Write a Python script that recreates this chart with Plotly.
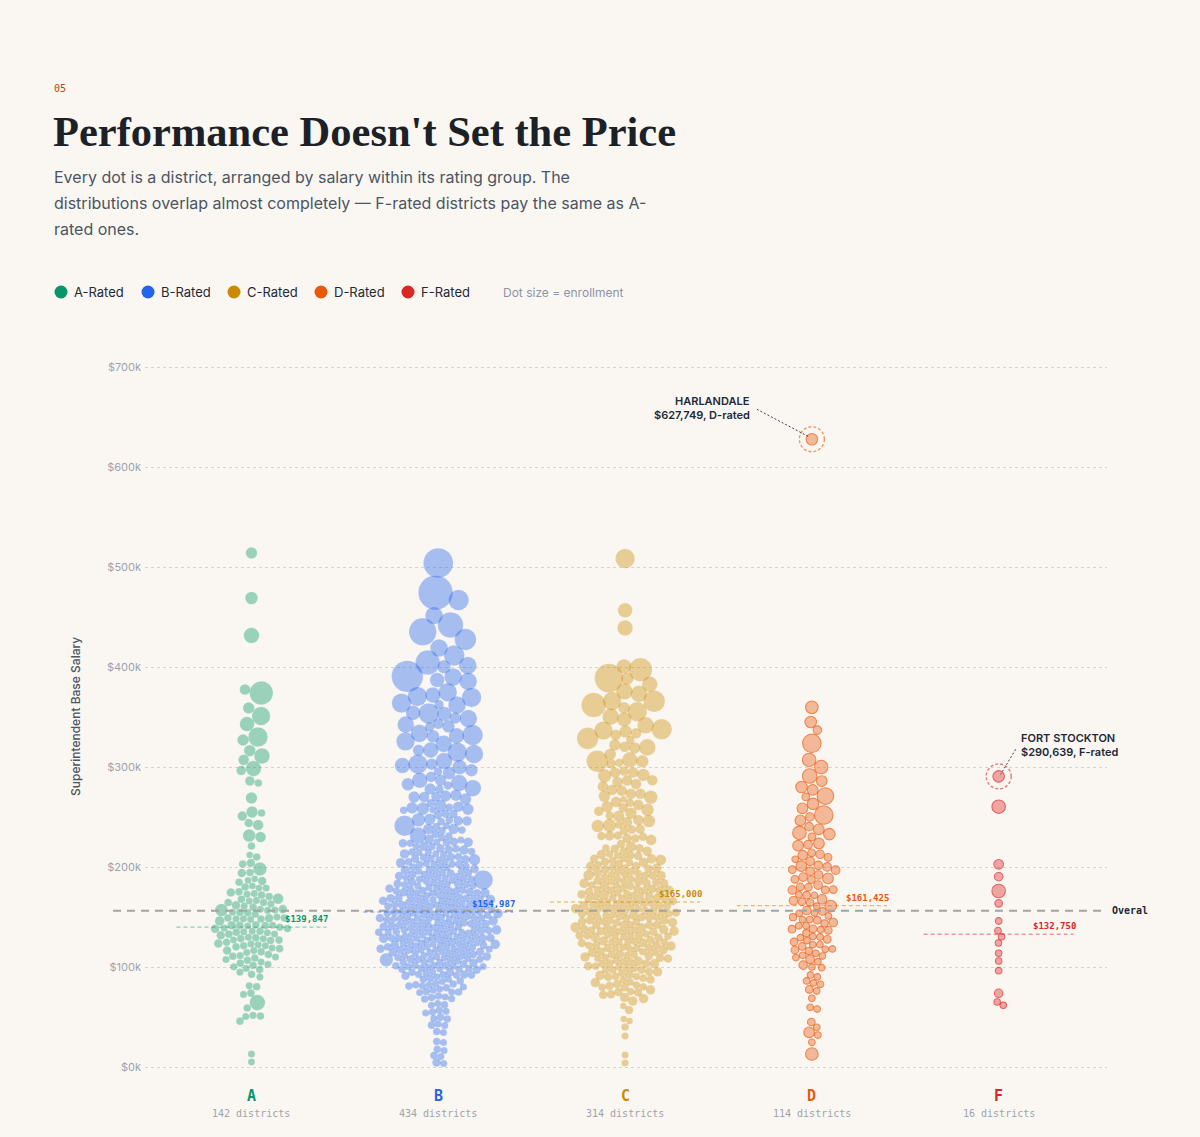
import numpy as np
import plotly.graph_objects as go

# ---------------- data (salary in $k, enrollment in thousands of students) ----------------
ratings = ["A", "B", "C", "D", "F"]
district_counts = [142, 434, 314, 114, 16]
group_means = [139847, 154987, 165000, 161425, 132750]
rating_colors = ["#059669", "#2563eb", "#ca8a04", "#ea580c", "#dc2626"]
salary_ticks = [0, 100, 200, 300, 400, 500, 600, 700]

a_districts = [
    (514.0, 7), (469.0, 10), (431.5, 21), (374.0, 70), (377.5, 5), (351.0, 36), (359.0, 7),
    (343.0, 17), (330.0, 42), (327.0, 7), (311.0, 21), (316.0, 7), (307.5, 5), (298.5, 21),
    (296.5, 3), (286.0, 3), (284.0, 0.6), (269.0, 7), (255.0, 7), (251.0, 3), (254.0, 0.6),
    (242.0, 5), (244.0, 1.5), (230.0, 5), (231.5, 10), (221.0, 0.6), (210.0, 0.6), (212.0, 0.1),
    (198.0, 13), (203.0, 0.6), (204.0, 1.5), (194.0, 1.5), (194.5, 0.6), (185.0, 1.5),
    (188.0, 0.1), (186.0, 0.1), (184.5, 0.6), (181.0, 0.1),
    (179.2, 0.3), (177.8, 0.6), (176.9, 0.2), (175.3, 0.6), (174.6, 1.5), (172.8, 0.3),
    (171.7, 0.6), (170.4, 0.3),
    (169.5, 0.6), (168.3, 5), (167.6, 0.3), (166.2, 0.6), (165.4, 0.2), (164.1, 0.6),
    (163.3, 1.5), (162.0, 0.3), (161.4, 0.6), (160.6, 0.3),
    (159.6, 0.6), (158.9, 0.3), (157.8, 1.5), (157.1, 0.3), (156.0, 10), (155.4, 0.6),
    (154.7, 0.3), (153.5, 0.6), (152.9, 0.2), (152.1, 0.6), (151.2, 0.3), (150.4, 1.5),
    (149.7, 0.3), (149.0, 0.6), (148.2, 0.3), (147.4, 3), (146.8, 0.6), (145.9, 0.2),
    (145.1, 0.6), (144.3, 0.3), (143.6, 0.6), (142.8, 1.5), (142.1, 0.3), (141.3, 0.6),
    (140.7, 0.2), (140.1, 0.6),
    (139.4, 0.3), (138.6, 0.6), (137.9, 1.5), (137.0, 0.3), (136.3, 0.6), (135.5, 0.2),
    (134.8, 0.6), (133.9, 0.3), (133.1, 0.6), (132.2, 0.3), (131.6, 1.5), (130.9, 0.6), (130.2, 0.3),
    (129.5, 0.6), (128.6, 0.3), (127.8, 0.6), (127.0, 0.2), (126.1, 0.6), (125.3, 1.5),
    (124.6, 0.3), (123.7, 0.6), (122.9, 0.3), (122.0, 0.6), (121.2, 0.2), (120.4, 0.6),
    (119.3, 0.3), (118.4, 0.6), (117.2, 1.5), (116.3, 0.3), (115.1, 0.6), (114.2, 0.3),
    (113.0, 0.6), (111.9, 0.3), (111.0, 0.6), (110.2, 0.3),
    (109.1, 0.6), (107.8, 0.3), (106.6, 0.6), (105.2, 0.3), (104.1, 0.6), (102.7, 0.3),
    (101.5, 0.6), (100.3, 0.3),
    (98.6, 0.3), (96.8, 0.6), (94.9, 0.3), (92.7, 0.6), (90.8, 0.3),
    (81.0, 0.3), (80.2, 0.6), (73.5, 0.6), (72.6, 0.3), (64.5, 21), (59.0, 0.6), (51.6, 0.3),
    (51.0, 0.6), (50.4, 0.3), (46.0, 0.6), (13.0, 0.3), (5.0, 0.2),
]

b_districts = [
    (504, 130), (474, 188), (467, 49), (450, 31), (442, 88), (436, 107), (428, 56), (418, 31),
    (411, 49), (404, 79), (400, 13), (402, 31), (391, 150), (390, 31), (385, 31), (387, 17),
    (370, 42), (364, 42), (370.5, 42), (374, 36), (363.5, 31), (372, 21), (360, 3),
    (344, 26), (343, 5), (352, 17), (350, 7), (353, 17), (347, 31), (352.5, 49), (339, 3), (339.5, 10),
    (326, 36), (333, 49), (332, 10), (332.5, 21), (334, 31),
    (316, 7), (313, 36), (323, 26), (314, 42), (317, 21),
    (303, 42), (301, 17), (297, 10), (304, 26), (297.5, 10), (301.5, 21), (303.5, 7),
    (291, 1.5), (286, 7), (285, 1.5), (289, 5), (283, 10), (283.5, 26), (287, 21),
    (279, 26), (272, 7), (278, 1.5), (268, 7), (277, 7), (271, 5), (270, 7), (268.5, 3), (271.5, 7),
    (261, 10), (258, 7), (257, 0.6), (264, 1.5), (259, 7), (259.5, 0.6), (258.5, 0.1), (258.2, 5), (259.2, 10),
    (247, 13), (250, 1.5), (246, 3), (250.5, 1.5), (252, 1.5), (247.5, 3), (250.8, 0.6), (248, 7), (241, 49),
    (242, 0.1), (236, 0.6), (239, 5), (243, 0.6), (237, 0.6), (240, 0.6), (237.5, 5), (232, 26),
    (229.6, 1.5), (228.9, 0.6), (228.0, 3), (227.5, 0.6), (226.4, 1.5), (225.9, 0.3), (225.0, 3),
    (224.2, 0.6), (223.8, 1.5), (222.5, 0.3), (221.9, 0.6), (221.0, 3), (220.3, 0.6),
    (219.5, 1.5), (218.7, 0.6), (218.2, 0.3), (217.0, 3), (216.6, 0.6), (215.5, 1.5), (215.0, 0.3),
    (214.1, 0.6), (213.3, 3), (212.9, 0.6), (211.8, 0.3), (211.2, 1.5), (210.6, 0.6), (210.0, 0.3),
    (209.4, 0.6), (208.8, 1.5), (208.0, 0.3), (207.3, 7), (206.9, 0.6), (205.8, 0.3), (205.2, 1.5),
    (205.0, 0.6), (204.1, 0.3), (203.3, 3), (202.7, 0.6), (202.0, 0.3), (201.4, 1.5), (200.5, 0.6), (200.0, 0.3),
    (199.7, 0.6), (199.0, 0.3), (198.5, 1.5), (197.6, 0.6), (197.0, 0.3), (196.3, 3), (195.9, 0.6),
    (195.0, 0.3), (194.4, 0.6), (193.8, 1.5), (193.0, 0.3), (192.5, 0.6), (191.7, 0.3), (191.0, 1.5),
    (190.6, 0.6), (190.2, 0.3), (190.0, 0.6),
    (189.6, 0.3), (189.0, 0.6), (188.5, 1.5), (188.0, 0.3), (187.2, 0.6), (186.6, 0.3), (186.0, 42),
    (185.5, 0.6), (185.0, 0.3), (184.3, 1.5), (183.8, 0.6), (183.0, 0.3), (182.6, 0.6), (182.0, 3),
    (181.5, 0.3), (181.0, 0.6), (180.7, 0.3), (180.3, 1.5), (180.0, 0.6),
    (179.8, 0.3), (179.2, 0.6), (178.7, 0.3), (178.0, 1.5), (177.6, 0.6), (177.0, 0.3), (176.5, 0.6),
    (176.0, 3), (175.4, 0.3), (175.0, 0.6), (174.6, 0.3), (174.0, 1.5), (173.5, 0.6), (173.0, 0.3),
    (172.4, 0.6), (172.0, 0.3), (171.5, 1.5), (171.0, 0.6), (170.8, 0.3), (170.4, 0.6), (170.0, 0.3), (170.0, 1.5),
    (169.7, 0.6), (169.2, 0.3), (168.8, 0.6), (168.3, 1.5), (168.0, 0.3), (167.5, 0.6), (167.0, 0.3),
    (166.6, 0.6), (166.1, 3), (165.8, 0.3), (165.2, 0.6), (165.0, 0.3), (164.6, 1.5), (164.0, 0.6),
    (163.7, 0.3), (163.2, 0.6), (162.8, 0.3), (162.3, 0.6), (162.0, 1.5), (161.6, 0.3), (161.0, 0.6),
    (160.7, 0.3), (160.4, 0.6), (160.0, 3), (160.0, 0.3),
    (159.8, 0.6), (159.3, 0.3), (159.0, 0.6), (158.5, 1.5), (158.0, 0.3), (157.6, 0.6), (157.2, 0.3),
    (156.8, 0.6), (156.3, 1.5), (156.0, 0.3), (155.6, 0.6), (155.0, 0.3), (155.0, 0.6), (154.5, 3),
    (154.0, 0.3), (153.7, 0.6), (153.2, 0.3), (152.8, 0.6), (152.4, 1.5), (152.0, 0.3), (151.5, 0.6),
    (151.0, 0.3), (150.8, 0.6), (150.4, 1.5), (150.0, 0.3), (150.0, 0.6), (150.0, 0.3),
    (149.7, 0.6), (149.3, 0.3), (149.0, 0.6), (148.5, 1.5), (148.0, 0.3), (147.8, 0.6), (147.2, 0.3),
    (147.0, 0.6), (146.5, 3), (146.0, 0.3), (145.7, 0.6), (145.3, 0.3), (145.0, 0.6), (145.0, 1.5),
    (144.5, 0.3), (144.0, 0.6), (143.6, 0.3), (143.2, 0.6), (142.8, 1.5), (142.4, 0.3), (142.0, 0.6),
    (141.6, 0.3), (141.2, 0.6), (140.8, 1.5), (140.5, 0.3), (140.2, 0.6), (140.0, 0.3), (140.0, 0.6),
    (139.6, 0.3), (139.2, 0.6), (138.9, 1.5), (138.4, 0.3), (138.0, 0.6), (137.7, 0.3), (137.3, 0.6),
    (137.0, 3), (136.5, 0.3), (136.0, 0.6), (135.8, 0.3), (135.4, 0.6), (135.0, 1.5), (135.0, 0.3),
    (134.6, 0.6), (134.1, 0.3), (133.7, 0.6), (133.3, 1.5), (133.0, 0.3), (132.5, 0.6), (132.0, 0.3),
    (131.7, 0.6), (131.3, 1.5), (131.0, 0.3), (130.6, 0.6), (130.3, 0.3), (130.0, 0.6), (130.0, 3),
    (129.6, 0.3), (129.1, 0.6), (128.7, 0.3), (128.3, 1.5), (128.0, 0.6), (127.5, 0.3), (127.0, 0.6),
    (126.7, 0.3), (126.2, 1.5), (125.8, 0.6), (125.4, 0.3), (125.0, 0.6), (125.0, 0.3), (124.5, 3),
    (124.0, 0.6), (123.6, 0.3), (123.1, 0.6), (122.7, 1.5), (122.3, 0.3), (122.0, 0.6), (121.5, 0.3),
    (121.2, 0.6), (120.8, 1.5), (120.5, 0.3), (120.0, 0.6), (120.0, 0.3), (120.3, 0.6),
    (119.6, 0.3), (119.0, 0.6), (118.6, 1.5), (118.0, 0.3), (117.5, 0.6), (117.0, 0.3), (116.6, 0.6),
    (116.0, 3), (115.5, 0.3), (115.0, 0.6), (115.2, 0.3), (114.4, 0.6), (114.0, 1.5), (113.5, 0.3),
    (113.0, 0.6), (112.6, 0.3), (112.0, 0.6), (111.7, 1.5), (111.2, 0.3), (110.9, 0.6), (110.5, 0.3),
    (110.0, 0.6), (110.1, 1.5), (110.7, 0.3), (111.4, 0.6),
    (109.7, 0.3), (109.1, 13), (108.6, 0.6), (108.0, 0.3), (107.5, 1.5), (107.0, 0.6), (106.4, 0.3),
    (106.0, 0.6), (105.5, 1.5), (105.0, 0.3), (104.6, 0.6), (104.0, 0.3), (103.4, 1.5), (103.0, 0.6),
    (102.5, 0.3), (102.0, 0.6), (101.5, 0.3), (101.0, 1.5), (100.6, 0.6), (100.2, 0.3), (100.0, 0.6), (100.0, 0.3),
    (99.5, 0.6), (98.8, 0.3), (98.0, 1.5), (97.4, 0.6), (96.7, 0.3), (96.0, 0.6), (95.5, 0.3),
    (95.0, 1.5), (94.2, 0.6), (93.6, 0.3), (93.0, 0.6), (92.3, 0.3), (91.7, 1.5), (91.0, 0.6),
    (90.6, 0.3), (90.2, 0.6), (90.0, 0.3),
    (87.0, 0.6), (86.0, 0.3), (85.0, 0.6), (84.5, 0.3), (83.5, 0.6), (83.0, 0.3), (82.0, 0.6),
    (81.5, 0.3), (81.0, 0.6), (78.5, 0.3), (78.0, 0.6), (77.0, 0.3), (76.5, 0.6), (76.0, 0.3),
    (75.0, 0.6), (74.5, 0.3), (71.0, 0.6), (70.0, 0.3), (69.5, 0.6), (68.5, 0.3), (68.0, 0.6),
    (63.5, 0.3), (62.0, 0.6), (61.0, 0.3), (56.5, 0.6), (56.0, 0.3), (55.0, 0.6), (54.0, 0.3),
    (50.0, 0.6), (49.0, 0.3), (48.0, 0.6), (43.0, 0.3), (42.0, 0.6), (41.5, 0.3), (35.5, 0.6),
    (34.5, 0.3), (25.5, 0.6), (24.5, 0.3), (17.5, 0.6), (16.5, 0.3), (11.5, 0.6), (10.5, 0.3),
    (4.5, 1.5), (3.5, 0.3),
]

c_districts = [
    (508.4, 42), (456.7, 17), (439, 21),
    (389, 118), (397, 70), (400, 17), (388, 10), (383.4, 21),
    (366, 56), (366.5, 36), (375, 26), (362, 79), (373, 26), (359, 7),
    (349.6, 17), (347, 26), (344.6, 26), (352, 42),
    (338, 49), (329, 56), (334, 5), (331, 5), (338.5, 36), (334.5, 10),
    (320, 7), (326, 1.5), (321, 5), (320.5, 7), (319.6, 26), (315, 7),
    (306, 56), (304, 3), (307, 21), (305.7, 10), (304.5, 1.5),
    (290.5, 13), (287, 5), (294, 5), (294.6, 5), (295.6, 3), (292, 10),
    (282, 5), (283, 5), (286.5, 5), (283.8, 5),
    (277, 5), (271, 7), (273, 5), (273.5, 5), (270, 13), (277.5, 5),
    (266, 0.1), (264.5, 1.5), (264, 5), (262, 5),
    (258, 3), (257, 10), (253, 7), (251.7, 7), (256, 3), (260, 7),
    (246.6, 10), (243, 13), (241, 10), (241.5, 0.6), (245, 5), (247.6, 5), (248, 1.5),
    (234.8, 1.5), (231.4, 1.5), (232, 3), (228.7, 1.5), (232.4, 1.5), (231, 1.5), (237.5, 1.5), (237, 3),
    (229, 3), (227.3, 5), (220, 5), (222.6, 1.5), (218, 1.5),
    (217.5, 1.5), (216.2, 0.6), (215.0, 3), (214.3, 1.5), (213.0, 0.6), (212.1, 3), (211.0, 1.5), (210.4, 0.6),
    (209.6, 1.5), (208.7, 3), (208.0, 0.6), (207.1, 1.5), (206.3, 5), (205.5, 0.6), (205.0, 1.5),
    (204.0, 3), (203.2, 0.6), (202.5, 1.5), (201.6, 0.6), (200.8, 3), (200.0, 1.5),
    (199.5, 0.6), (198.8, 1.5), (198.0, 3), (197.2, 0.6), (196.5, 1.5), (195.7, 0.6), (195.0, 3),
    (194.3, 1.5), (193.5, 0.6), (192.8, 1.5), (192.0, 5), (191.2, 0.6), (190.5, 1.5), (190.0, 0.6),
    (189.6, 1.5), (189.0, 3), (188.2, 0.6), (187.5, 1.5), (186.8, 0.6), (186.0, 3), (185.3, 1.5),
    (185.0, 0.6), (184.2, 1.5), (183.5, 3), (182.8, 0.6), (182.0, 1.5), (181.3, 0.6), (180.6, 1.5), (180.0, 3),
    (179.6, 0.6), (179.0, 1.5), (178.4, 0.6), (177.7, 3), (177.0, 1.5), (176.5, 0.6), (175.9, 1.5),
    (175.3, 0.6), (175.0, 3), (174.3, 1.5), (173.6, 0.6), (173.0, 1.5), (172.4, 0.6), (171.8, 5),
    (171.2, 0.6), (170.5, 1.5), (170.0, 0.6),
    (169.6, 1.5), (169.0, 0.6), (168.5, 3), (168.0, 0.6), (167.4, 1.5), (166.8, 0.6), (166.2, 1.5),
    (165.7, 0.6), (165.0, 3), (165.0, 0.6), (164.4, 1.5), (163.8, 0.6), (163.2, 1.5), (162.7, 0.6),
    (162.1, 3), (161.6, 0.6), (161.0, 1.5), (160.5, 0.6), (160.0, 1.5),
    (159.6, 0.6), (159.1, 1.5), (158.5, 0.6), (158.0, 3), (157.5, 0.6), (157.0, 1.5), (156.4, 0.6),
    (155.9, 1.5), (155.3, 0.6), (155.0, 3), (155.0, 0.6), (154.4, 1.5), (153.9, 0.6), (153.3, 1.5),
    (152.8, 0.6), (152.2, 3), (151.7, 0.6), (151.1, 1.5), (150.5, 0.6), (150.0, 1.5),
    (149.6, 0.6), (149.0, 1.5), (148.5, 0.6), (148.0, 3), (147.4, 0.6), (146.9, 1.5), (146.3, 0.6),
    (145.8, 1.5), (145.2, 0.6), (145.0, 3), (144.6, 0.6), (144.0, 1.5), (143.5, 0.6), (142.9, 1.5),
    (142.4, 0.6), (141.8, 3), (141.3, 0.6), (140.8, 1.5), (140.3, 0.6), (140.0, 5),
    (139.5, 0.6), (139.0, 1.5), (138.4, 0.6), (137.9, 3), (137.3, 0.6), (136.7, 1.5), (136.2, 0.6),
    (135.6, 1.5), (135.0, 0.6), (135.0, 3), (134.4, 0.6), (133.8, 1.5), (133.2, 0.6), (132.7, 1.5),
    (132.1, 0.6), (131.6, 3), (131.0, 0.6), (130.5, 1.5), (130.0, 0.6),
    (129.5, 1.5), (128.9, 0.6), (128.3, 3), (127.7, 0.6), (127.1, 1.5), (126.5, 0.6), (125.9, 1.5),
    (125.3, 0.6), (125.0, 3), (124.4, 0.6), (123.8, 1.5), (123.2, 0.6), (122.6, 1.5), (122.0, 0.6),
    (121.4, 3), (120.8, 0.6), (120.3, 1.5), (120.0, 0.6),
    (119.4, 1.5), (118.8, 0.6), (118.1, 3), (117.4, 0.6), (116.7, 1.5), (116.0, 0.6), (115.3, 1.5),
    (115.0, 3), (114.3, 0.6), (113.6, 1.5), (112.9, 0.6), (112.2, 1.5), (111.5, 0.6), (110.8, 3),
    (110.2, 0.6), (110.0, 1.5),
    (109.3, 0.6), (108.6, 1.5), (107.8, 0.6), (107.0, 3), (106.3, 0.6), (105.5, 1.5), (105.0, 0.6),
    (104.1, 1.5), (103.4, 0.6), (102.6, 3), (101.8, 0.6), (101.0, 1.5), (100.4, 0.6), (100.0, 1.5),
    (99.2, 0.6), (98.3, 1.5), (97.5, 0.6), (96.6, 3), (95.8, 0.6), (95.0, 1.5), (94.1, 0.6),
    (93.2, 1.5), (92.4, 0.6), (91.5, 3), (90.7, 0.6), (90.0, 1.5),
    (89.0, 0.6), (87.9, 1.5), (86.8, 0.6), (85.6, 3), (84.5, 0.6), (83.4, 1.5), (82.3, 0.6),
    (81.2, 1.5), (80.1, 0.6),
    (79.2, 1.5), (78.3, 0.6), (77.4, 3), (76.5, 0.6), (75.6, 1.5),
    (74, 1.5), (73.5, 1.5), (73, 1.5), (69.5, 3), (69, 3), (66, 3), (61, 0.1), (57, 1.5),
    (48, 0.1), (46, 0.1), (40, 0.6), (31, 0.3), (12, 0.3), (4, 0.3),
]

d_districts = [
    (627.749, 7),
    (359.7, 10), (345, 7), (337, 1.5), (323.7, 36), (307, 13), (300, 13), (291, 17), (286, 5), (280, 7), (277, 5),
    (271, 26), (270, 0.6), (258.7, 5), (263, 7), (252, 36), (250, 1.5), (246, 5), (239.7, 1.5), (237.7, 5), (233, 7),
    (234.7, 13), (229, 0.6), (221, 5), (223, 1.5), (223.7, 5), (212.7, 1.5), (209.7, 0.6), (214, 0.6), (212.2, 3), (207.7, 0.1),
    (201, 5), (200, 1.5), (205, 1.5), (202, 1.5), (197, 1.5), (188.7, 5), (190, 1.5), (195, 1.5), (192, 1.5), (187.7, 0.6),
    (177, 1.5), (180, 0.6), (180.4, 0.6), (177.4, 0.6), (182, 1.5), (177.7, 0.6), (166.3, 1.5), (172, 0.6), (171, 0.1), (167, 0.6),
    (171.3, 0.1), (167.7, 3), (161, 7), (156, 0.6), (160, 0.1), (163.7, 0.6), (157, 1.5), (151, 0.1), (153, 0.1), (154, 0.1),
    (147, 0.6), (146, 0.1), (147.3, 0.1), (145, 1.5), (138, 0.6), (141.7, 0.1), (137.7, 0.1), (142, 0.1), (138.3, 0.6), (137, 0.6),
    (129, 0.1), (126, 0.1), (130, 0.1), (127.7, 0.6), (130.3, 0.1), (125, 0.6), (121, 0.6), (118, 0.1), (121.3, 0.1), (118.7, 0.1),
    (122, 0.1), (117, 0.6), (112, 0.1), (110, 0.1), (113.7, 0.1), (111, 0.1), (107.7, 1.5), (102, 1.5), (105, 0.1), (100, 0.05),
    (99.7, 0.1), (90, 0.1), (92, 0.1), (82.7, 0.1), (84, 0.1), (86, 0.1), (76, 0.1), (77.7, 0.6), (68.7, 0.1), (59.7, 0.1),
    (58, 0.1), (45, 0.6), (39.7, 0.1), (34.7, 5), (32, 0.1), (24.7, 0.1), (13, 10),
    (185.2, 0.6), (197.5, 0.6), (150.0, 0.3), (143.0, 0.3), (133.5, 0.3), (116.0, 0.3),
]

f_districts = [
    (290.639, 7), (260.3, 13), (202.7, 3), (190.3, 1.5), (176, 13), (163.7, 0.6), (146, 0.1),
    (136.3, 0.1), (130.3, 0.05), (124, 0.05), (113.7, 0.05), (106, 0.05), (96.3, 0.1),
    (73.7, 1.5), (65, 0.05), (61.7, 0.05),
]

callouts = [("HARLANDALE", "D", 627.749), ("FORT STOCKTON", "F", 290.639)]

all_groups = [a_districts, b_districts, c_districts, d_districts, f_districts]

# ---------------- layout constants ----------------
W, H = 1200, 1137
L, R, T, B = 145, 93, 357, 60
PLOT_W, PLOT_H = W - L - R, H - T - B
X_RANGE = [-0.57, 4.58]
PX = PLOT_W / (X_RANGE[1] - X_RANGE[0])  # pixels per group unit
BG = "#faf7f2"
INK = "#1f2937"
MONO = "DejaVu Sans Mono"
SANS = "Inter"


def paper(x, y):
    return (x - L) / PLOT_W, (H - B - y) / PLOT_H


def radius(enroll_k):
    return 3.0 + 1.04 * np.sqrt(np.asarray(enroll_k, dtype=float))


def rgba(hex_color, a):
    h = hex_color.lstrip("#")
    r, g, b = int(h[0:2], 16), int(h[2:4], 16), int(h[4:6], 16)
    return f"rgba({r},{g},{b},{a})"


def swarm(ys, rs, pad=0.5):
    # greedy beeswarm, y in px (1 $k == 1 px), returns x offsets in px
    n = len(ys)
    xs = np.zeros(n)
    done = np.zeros(n, dtype=bool)
    for i in np.argsort(-ys, kind="stable"):
        near = np.where(done & (np.abs(ys - ys[i]) < rs + rs[i] + pad))[0]
        if len(near):
            d = rs[near] + rs[i] + pad
            dy = ys[near] - ys[i]
            dx = np.sqrt(np.maximum(d * d - dy * dy, 0))
            cands = np.concatenate([[0.0], xs[near] + dx, xs[near] - dx])
            cands = cands[np.argsort(np.abs(cands), kind="stable")]
            dist2 = (cands[:, None] - xs[near][None, :]) ** 2 + dy[None, :] ** 2
            ok = np.all(dist2 >= d[None, :] ** 2 - 1e-6, axis=1)
            xs[i] = cands[np.argmax(ok)]
        done[i] = True
    return xs


def collide(x, y, rr, w, strength):
    dx = x[:, None] - x[None, :]
    dy = y[:, None] - y[None, :]
    dist = np.sqrt(dx * dx + dy * dy) + 1e-9
    ov = np.where(dist < rr, (rr - dist) / dist, 0.0)
    np.fill_diagonal(ov, 0.0)
    x += strength * (ov * w * dx).sum(1)
    y += strength * (ov * w * dy).sum(1)


def relax(xs, ys, rs, scale, iters=220, kx=0.006, ky=0.06, pad=0.5):
    # d3-style settle: weak pull to centre / salary, push overlapping dots apart
    x, y = xs.copy(), ys.copy()
    rc = rs * scale + pad / 2
    rr = rc[:, None] + rc[None, :]
    m = rc ** 2
    w = m[None, :] / (m[:, None] + m[None, :])
    for it in range(iters):
        a = 1 - it / iters
        x -= x * kx * a
        y += (ys - y) * ky
        for _k in range(3):
            collide(x, y, rr, w, 0.6)
    for _k in range(25):
        collide(x, y, rr, w, 0.6)
    return x, y


collide_scale = [0.95, 0.86, 0.86, 1.0, 1.0]

fig = go.Figure()
dot_pos = {}
for gi, (rating, pts) in enumerate(zip(ratings, all_groups)):
    sal = np.array([p[0] for p in pts], dtype=float)
    enr = np.array([p[1] for p in pts], dtype=float)
    rs = radius(enr)
    x0 = swarm(sal, rs * collide_scale[gi])
    offs, ypos = relax(x0, sal, rs, collide_scale[gi])
    xs = gi + offs / PX
    col = rating_colors[gi]
    if rating in ("D", "F"):
        line = dict(color=col, width=1.1)
    else:
        line = dict(color="rgba(255,255,255,0.3)", width=0.5)
    fig.add_trace(go.Scatter(
        x=xs, y=ypos, mode="markers", name=f"{rating}-Rated",
        marker=dict(size=2 * rs, color=rgba(col, 0.56), line=line),
        customdata=np.round(sal * 1000),
        hovertemplate=rating + "-rated<br>$%{customdata:,.0f}<extra></extra>",
        showlegend=False,
    ))
    for s, x, yv in zip(sal, xs, ypos):
        dot_pos[(rating, round(s, 3))] = (x, yv)

shapes = []
annotations = []

# overall average line
overall = sum(c * m for c, m in zip(district_counts, group_means)) / sum(district_counts)
x0p, _ = paper(113, 0)
x1p, _ = paper(1105, 0)
shapes.append(dict(type="line", xref="paper", yref="y", x0=x0p, x1=x1p, y0=overall / 1000, y1=overall / 1000,
                   line=dict(color="#a3a3a3", width=2, dash="8px,6px"), layer="above"))
annotations.append(dict(xref="paper", yref="y", x=paper(1110, 0)[0], y=overall / 1000, text="<b>Overal</b>",
                        showarrow=False, xanchor="left", yanchor="middle",
                        font=dict(family=MONO, size=10, color=INK)))

# group mean lines + labels
for gi, m in enumerate(group_means):
    col = rating_colors[gi]
    shapes.append(dict(type="line", xref="x", yref="y", x0=gi - 75 / PX, x1=gi + 75 / PX,
                       y0=m / 1000, y1=m / 1000, line=dict(color=rgba(col, 0.45), width=1.3, dash="4px,3px"),
                       layer="above"))
    annotations.append(dict(xref="x", yref="y", x=gi + 32 / PX, y=m / 1000 + 8, text=f"<b>${m:,.0f}</b>",
                            showarrow=False, xanchor="left", yanchor="middle",
                            font=dict(family=MONO, size=9, color=col)))

# category labels under the swarms
for gi, (rating, n) in enumerate(zip(ratings, district_counts)):
    annotations.append(dict(xref="x", yref="paper", x=gi, y=paper(0, 1096)[1], text=f"<b>{rating}</b>",
                            showarrow=False, yanchor="middle",
                            font=dict(family=MONO, size=15, color=rating_colors[gi])))
    annotations.append(dict(xref="x", yref="paper", x=gi, y=paper(0, 1113)[1], text=f"{n} districts",
                            showarrow=False, yanchor="middle",
                            font=dict(family=MONO, size=10, color="#9ca3af")))

# callouts
for name, rating, sal in callouts:
    gi = ratings.index(rating)
    cx, cy = dot_pos[(rating, round(sal, 3))]
    col = rating_colors[gi]
    rr = 12.5
    shapes.append(dict(type="circle", xref="x", yref="y", x0=cx - rr / PX, x1=cx + rr / PX, y0=cy - rr, y1=cy + rr,
                       line=dict(color=rgba(col, 0.6), width=1.4, dash="3px,2px"), layer="above"))
    side = -1 if rating == "D" else 1
    if side < 0:
        lx0, ly0 = cx - 55 / PX, cy + 30
        tx, anchor = cx - 60 / PX, "right"
    else:
        lx0, ly0 = cx + 17 / PX, cy + 27
        tx, anchor = cx + 20 / PX, "left"
    shapes.append(dict(type="line", xref="x", yref="y", x0=lx0, y0=ly0, x1=cx + side * 2 / PX, y1=cy + 2,
                       line=dict(color="#374151", width=1, dash="2px,2px"), layer="above"))
    annotations.append(dict(xref="x", yref="y", x=tx, y=cy + 38, text=name, showarrow=False,
                            xanchor=anchor, yanchor="middle",
                            font=dict(family=SANS, size=11, color=INK, weight=600)))
    annotations.append(dict(xref="x", yref="y", x=tx, y=cy + 24, text=f"${sal * 1000:,.0f}, {rating}-rated",
                            showarrow=False, xanchor=anchor, yanchor="middle",
                            font=dict(family=SANS, size=11, color=INK, weight=600)))


# header
def head(x, y, text, font, anchor="left"):
    xp, yp = paper(x, y)
    annotations.append(dict(xref="paper", yref="paper", x=xp, y=yp, text=text, showarrow=False,
                            xanchor=anchor, yanchor="middle", font=font))


head(52, 88, "05", dict(family=MONO, size=10, color="#c2410c"))
head(51, 131, "<b>Performance Doesn't Set the Price</b>", dict(family="Liberation Serif", size=42.5, color="#1c2128"))
sub = ["Every dot is a district, arranged by salary within its rating group. The",
       "distributions overlap almost completely \u2014 F-rated districts pay the same as A-",
       "rated ones."]
for k, line_text in enumerate(sub):
    head(52, 177 + 26 * k, line_text, dict(family=SANS, size=16, color="#4b5563"))

# legend
legend_x = [61, 148, 234, 321, 408]
for gi, lx in enumerate(legend_x):
    xp, yp = paper(lx, 292)
    shapes.append(dict(type="circle", xref="paper", yref="paper", xsizemode="pixel", ysizemode="pixel",
                       xanchor=xp, yanchor=yp, x0=-6.5, x1=6.5, y0=-6.5, y1=6.5,
                       fillcolor=rating_colors[gi], line=dict(width=0)))
    head(lx + 11, 292, f"{ratings[gi]}-Rated", dict(family=SANS, size=13, color=INK))
head(501, 292, "Dot size = enrollment", dict(family=SANS, size=12, color="#8b95a5"))

# y axis title
xp, _ = paper(75, 0)
annotations.append(dict(xref="paper", yref="paper", x=xp, y=0.5, text="Superintendent Base Salary",
                        textangle=-90, showarrow=False, xanchor="center", yanchor="middle",
                        font=dict(family=SANS, size=12, color="#4b5563", weight=500)))

fig.update_layout(
    width=W, height=H,
    margin=dict(l=L, r=R, t=T, b=B),
    paper_bgcolor=BG, plot_bgcolor=BG,
    font=dict(family=SANS, color=INK),
    xaxis=dict(range=X_RANGE, visible=False, fixedrange=True),
    yaxis=dict(range=[-10, 710], tickmode="array", tickvals=salary_ticks,
               ticktext=[f"${v}k" for v in salary_ticks],
               showgrid=True, gridcolor="#d4d4d4", griddash="dot", gridwidth=1, zeroline=False,
               showline=False, ticks="", ticklabelstandoff=3,
               tickfont=dict(family=SANS, size=11, color="#9ca3af"), fixedrange=True),
    shapes=shapes,
    annotations=annotations,
    showlegend=False,
    hoverlabel=dict(font=dict(family=SANS)),
)

fig.write_html("out.html", config={"displayModeBar": False},
               post_script="document.body.style.margin='0';document.body.style.background='#faf7f2';")
